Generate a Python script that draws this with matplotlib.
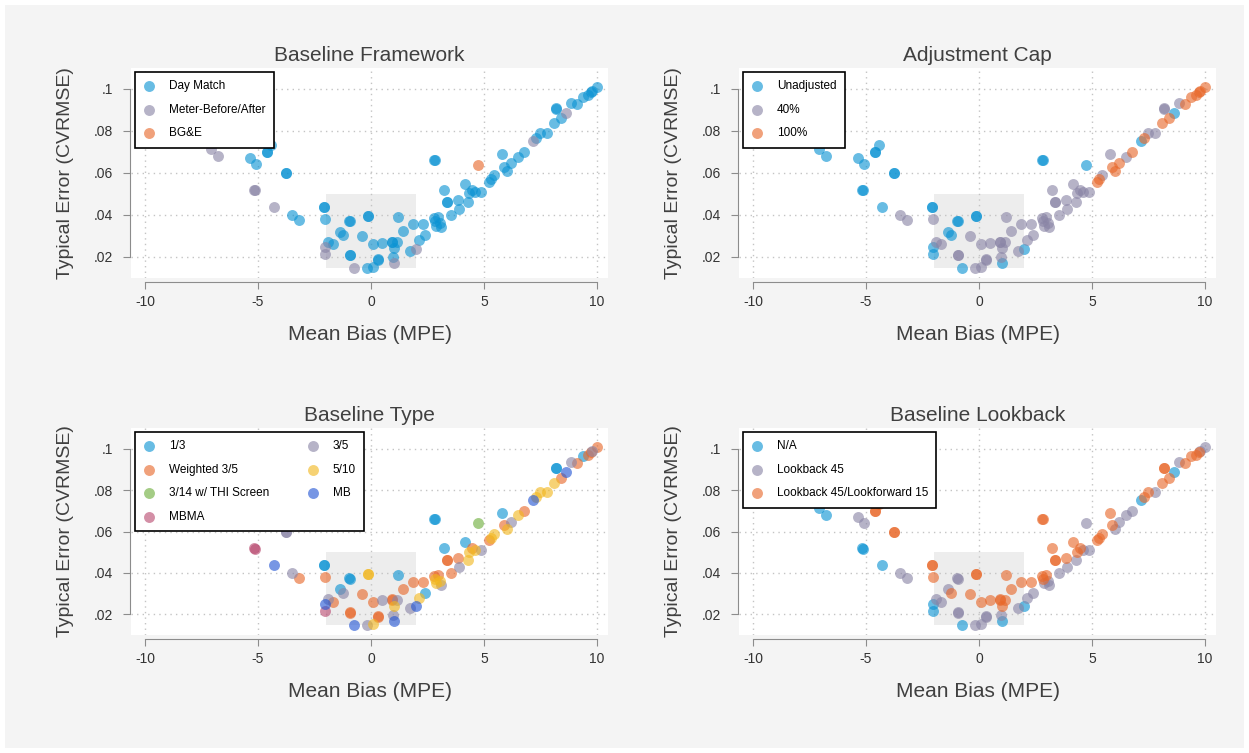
import matplotlib
matplotlib.use('Agg')
import matplotlib.pyplot as plt
from matplotlib.patches import Rectangle

plt.rcParams['font.family'] = ['Liberation Sans', 'DejaVu Sans']

# Point data: mean bias (x), typical error (y) and the four grouping variables
mpe = [
    -7.08, -6.78, -5.16, -5.14, -4.30, -2.05, -2.03, -0.74, 1.03, 1.99, 7.15, 8.63,
    4.75,
    -5.34, -5.09, -4.60, -4.58, -4.42, -3.76, -3.74, -2.09, -2.07, -0.96, -0.94,
    -0.15, -0.13, -1.36, -1.25, 2.80, 2.82,
    8.19, 8.21, -3.50, -3.20, -2.02, -0.41, -1.92, -1.70, -0.94, -0.92, -0.18,
    0.10, 0.30, 0.32, 0.07, 0.47, 0.92, 0.94, 1.16, 1.03, 0.96, 1.18, 1.40, 1.71,
    1.87, 2.29, 2.39, 2.14, 2.80, 2.85, 2.95, 3.05, 3.10, 2.90, 3.22, 3.36, 3.38,
    3.54, 3.83, 3.90, 4.16, 4.30, 4.35, 4.45, 4.60, 4.87, 5.46, 5.78, 6.52, 7.50,
    7.80, 8.85,
    5.24, 5.30, 5.87, 6.00, 6.19, 6.76, 7.30, 8.11, 8.40, 9.10, 9.37, 9.60, 9.75,
    9.80, 10.00,
]
cvrmse = [
    .0713, .0682, .0519, .0517, .0440, .0250, .0214, .0150, .0170, .0238, .0752, .0887,
    .0640,
    .0670, .0643, .0700, .0698, .0733, .0600, .0598, .0440, .0438, .0373, .0371,
    .0395, .0393, .0320, .0305, .0662, .0660,
    .0908, .0906, .0400, .0376, .0380, .0300, .0273, .0260, .0210, .0208, .0146,
    .0152, .0190, .0188, .0260, .0268, .0273, .0271, .0270, .0241, .0198, .0389, .0324, .0230,
    .0357, .0357, .0305, .0280, .0385, .0372, .0390, .0362, .0342, .0350, .0520, .0463, .0461,
    .0400, .0470, .0430, .0550, .0460, .0503, .0520, .0510, .0510, .0590, .0690, .0678, .0790,
    .0790, .0935,
    .0559, .0570, .0630, .0610, .0646, .0700, .0765, .0836, .0860, .0930, .0964, .0970, .0985,
    .0990, .1008,
]
framework = ['MBA'] * 12 + ['BGE'] + ['DM'] * 84
cap = ['U'] * 13 + ['U'] * 17 + ['40'] * 52 + ['100'] * 15
btype = [
    'MBMA', 'MB', 'MBMA', 'MBMA', 'MB', 'MB', 'MBMA', 'MB', 'MB', 'MB', 'MB', 'MB',
    'THI',
    '1/3', '1/3', '1/3', 'W35', '1/3', '3/5', '3/5', '1/3', '1/3', '1/3', '1/3',
    '5/10', '5/10', '1/3', '3/5', '1/3', '1/3',
    '1/3', '1/3', '3/5', 'W35', 'W35', 'W35', '3/5', 'W35', 'W35', 'W35', '3/5',
    '5/10', 'W35', 'W35', 'W35', '3/5', 'W35', 'W35', '3/5', '5/10', '3/5', '1/3', 'W35', '3/5',
    'W35', 'W35', '1/3', '5/10', 'W35', '5/10', 'W35', '5/10', '3/5', '5/10', '1/3', 'W35', 'W35',
    'W35', 'W35', '3/5', '1/3', '5/10', '5/10', 'W35', '5/10', '3/5', '5/10', '1/3', '5/10', '5/10',
    '5/10', '3/5',
    'W35', '5/10', 'W35', '5/10', '3/5', 'W35', '5/10', '5/10', 'W35', 'W35', '1/3', 'W35', 'W35',
    '3/5', 'W35',
]
lookback = [
    'NA'] * 12 + ['45'] + [
    '45', '45', '45/15', '45/15', '45/15', '45/15', '45/15', '45/15', '45/15', '45', '45',
    '45/15', '45/15', '45', '45/15', '45/15', '45/15',
    '45/15', '45/15', '45', '45', '45/15', '45/15', '45', '45', '45', '45', '45',
    '45', '45', '45', '45/15', '45/15', '45/15', '45/15', '45/15', '45/15', '45', '45/15', '45/15', '45',
    '45/15', '45/15', '45', '45', '45/15', '45/15', '45/15', '45', '45', '45', '45/15', '45/15', '45/15',
    '45', '45/15', '45', '45/15', '45', '45/15', '45/15', '45', '45', '45/15', '45/15', '45', '45/15',
    '45', '45',
    '45/15', '45/15', '45/15', '45', '45', '45', '45/15', '45/15', '45/15', '45/15', '45/15', '45/15', '45/15',
    '45', '45',
]

BLUE, GRAY, ORANGE = '#0b93d3', '#8a85a6', '#e8682a'
GREEN, PINK, YELLOW, DBLUE = '#6cae3a', '#b94a70', '#f2b71f', '#2456d4'

panels = [
    ('Baseline Framework', framework,
     [('DM', 'Day Match', BLUE), ('MBA', 'Meter-Before/After', GRAY), ('BGE', 'BG&E', ORANGE)], 1),
    ('Adjustment Cap', cap,
     [('U', 'Unadjusted', BLUE), ('40', '40%', GRAY), ('100', '100%', ORANGE)], 1),
    ('Baseline Type', btype,
     [('1/3', '1/3', BLUE), ('W35', 'Weighted 3/5', ORANGE), ('THI', '3/14 w/ THI Screen', GREEN),
      ('MBMA', 'MBMA', PINK), ('3/5', '3/5', GRAY), ('5/10', '5/10', YELLOW), ('MB', 'MB', DBLUE)], 2),
    ('Baseline Lookback', lookback,
     [('NA', 'N/A', BLUE), ('45', 'Lookback 45', GRAY), ('45/15', 'Lookback 45/Lookforward 15', ORANGE)], 1),
]

W, H = 1249, 753
fig = plt.figure(figsize=(W / 100, H / 100), dpi=100)
fig.patch.set_facecolor('white')
fig.add_artist(Rectangle((5 / W, 5 / H), 1 - 10 / W, 1 - 10 / H, transform=fig.transFigure,
                         facecolor='#f4f4f4', edgecolor='none', zorder=-10))

# axes boxes in pixels: left, top, width, height
boxes = [(131, 68, 477, 210), (739, 68, 477, 210), (131, 428, 477, 207), (739, 428, 477, 207)]

for (title, groups, cats, ncol), (l, t, w, h) in zip(panels, boxes):
    ax = fig.add_axes([l / W, 1 - (t + h) / H, w / W, h / H])
    ax.set_facecolor('white')
    ax.add_patch(Rectangle((-2, 0.015), 4, 0.035, facecolor='#ededed', edgecolor='none', zorder=0))

    for code, label, color in cats:
        xs = [x for x, g in zip(mpe, groups) if g == code]
        ys = [y for y, g in zip(cvrmse, groups) if g == code]
        ax.scatter(xs, ys, s=62, color=color, alpha=0.62, linewidths=0, label=label, zorder=3)

    ax.set_xlim(-10.62, 10.49)
    ax.set_ylim(0.010, 0.110)
    ax.set_xticks([-10, -5, 0, 5, 10])
    ax.set_xticklabels(['-10', '-5', '0', '5', '10'])
    ax.set_yticks([.02, .04, .06, .08, .1])
    ax.set_yticklabels(['.02', '.04', '.06', '.08', '.1'])
    ax.set_axisbelow(True)
    ax.grid(True, color='#c4c4c4', linestyle=(0, (1, 3)), linewidth=1)

    for side in ['top', 'right']:
        ax.spines[side].set_visible(False)
    ax.spines['left'].set_bounds(0.02, 0.1)
    ax.spines['bottom'].set_bounds(-10, 10)
    ax.spines['left'].set_position(('outward', 1))
    ax.spines['bottom'].set_position(('outward', 3))
    for side in ['left', 'bottom']:
        ax.spines[side].set_color('#8c8c8c')
    ax.tick_params(axis='both', colors='#8c8c8c', labelcolor='#333333', labelsize=10, length=5)
    ax.tick_params(axis='y', pad=7)
    ax.tick_params(axis='x', pad=4)

    ax.set_title(title, fontsize=15, color='#404040', pad=5)
    ax.set_xlabel('Mean Bias (MPE)', fontsize=15, color='#404040', labelpad=12)
    ax.set_ylabel('Typical Error (CVRMSE)', fontsize=14, color='#404040', labelpad=14)

    leg = ax.legend(loc='upper left', bbox_to_anchor=(0, 1), ncol=ncol, fontsize=8.5,
                    frameon=True, fancybox=False, framealpha=1, edgecolor='black',
                    borderaxespad=0.3, borderpad=0.7, labelspacing=1.0,
                    handlelength=1.0, handletextpad=1.2, columnspacing=3.2)
    leg.get_frame().set_linewidth(1.2)
    leg.set_zorder(5)

fig.savefig('out.png', dpi=100, facecolor=fig.get_facecolor())
